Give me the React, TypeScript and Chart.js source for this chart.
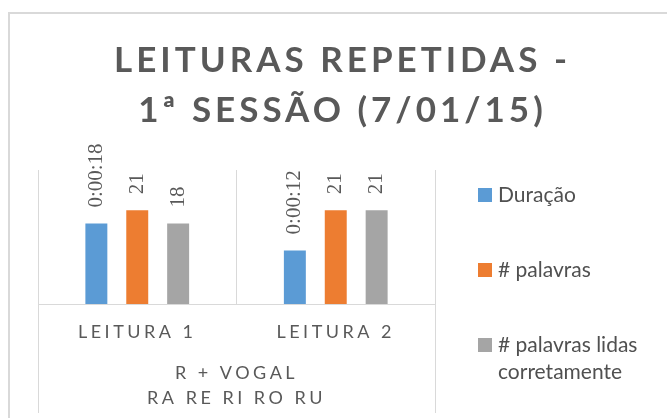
import React, { useEffect, useRef } from 'react';
import { Chart, registerables } from 'chart.js';

Chart.register(...registerables);

// ---- data ----
const titleLines = ['LEITURAS REPETIDAS -', '1ª SESSÃO (7/01/15)'];
const categories = ['LEITURA 1', 'LEITURA 2'];
const groupLabel = ['R + VOGAL', 'RA RE RI RO RU'];
const seriesNames = ['Duração', '# palavras', '# palavras lidas corretamente'];
const duracaoSeconds = [18, 12];
const palavras = [21, 21];
const palavrasCorretas = [18, 21];
const seriesColors = ['#5b9bd5', '#ed7d31', '#a5a5a5'];

const GRID = '#d9d9d9';
const TEXT = '#595959';

function fmtDuration(s: number): string {
  const h = Math.floor(s / 3600);
  const m = Math.floor((s % 3600) / 60);
  const sec = s % 60;
  return `${h}:${String(m).padStart(2, '0')}:${String(sec).padStart(2, '0')}`;
}

const letterSpacingPlugin = {
  id: 'letterSpacing',
  afterLayout(chart: any) {
    const wrap = (obj: any, key: string, spacing: string) => {
      if (!obj || obj['__ls_' + key]) return;
      const orig = obj[key];
      obj[key] = function (...args: any[]) {
        const c: any = chart.ctx;
        const prev = c.letterSpacing;
        c.letterSpacing = spacing;
        try {
          return orig.apply(this, args);
        } finally {
          c.letterSpacing = prev || '0px';
        }
      };
      obj['__ls_' + key] = true;
    };
    wrap(chart.titleBlock, 'draw', '4px');
    wrap(chart.scales.x, 'drawLabels', '3.5px');
    wrap(chart.scales.x2, 'drawLabels', '3.5px');
  },
};

const valueLabelPlugin = {
  id: 'valueLabels',
  afterDatasetsDraw(chart: any) {
    const ctx = chart.ctx;
    chart.data.datasets.forEach((ds: any, di: number) => {
      const meta = chart.getDatasetMeta(di);
      meta.data.forEach((bar: any, i: number) => {
        const v = ds.data[i];
        const text = di === 0 ? fmtDuration(v) : String(v);
        ctx.save();
        ctx.translate(bar.x, bar.y - 16);
        ctx.rotate(-Math.PI / 2);
        ctx.font = '21px "Liberation Serif"';
        ctx.fillStyle = TEXT;
        ctx.textAlign = 'left';
        ctx.textBaseline = 'middle';
        ctx.fillText(text, 0, 0);
        ctx.restore();
      });
    });
  },
};

function wrapWords(ctx: CanvasRenderingContext2D, text: string, maxW: number): string[] {
  const words = text.split(' ');
  const lines: string[] = [];
  let cur = '';
  for (const w of words) {
    const t = cur ? cur + ' ' + w : w;
    if (cur && ctx.measureText(t).width > maxW) {
      lines.push(cur);
      cur = w;
    } else cur = t;
  }
  if (cur) lines.push(cur);
  return lines;
}

const sideLegendPlugin = {
  id: 'sideLegend',
  afterDraw(chart: any) {
    const ctx = chart.ctx;
    const area = chart.chartArea;
    const x0 = area.right + 43;
    let yc = area.top + 25;
    ctx.save();
    ctx.font = '21px Lato';
    ctx.textAlign = 'left';
    ctx.textBaseline = 'middle';
    chart.data.datasets.forEach((ds: any) => {
      ctx.fillStyle = ds.backgroundColor;
      ctx.fillRect(x0, yc - 7, 14, 14);
      const lines = wrapWords(ctx, ds.label, 160);
      ctx.fillStyle = '#505050';
      lines.forEach((ln, k) => ctx.fillText(ln, x0 + 20, yc + k * 27));
      yc += 75;
    });
    ctx.restore();
  },
};

export default function App() {
  const ref = useRef<HTMLCanvasElement | null>(null);

  useEffect(() => {
    if (!ref.current) return;
    const chart = new Chart(ref.current, {
      type: 'bar',
      data: {
        labels: categories,
        datasets: [
          { label: seriesNames[0], data: duracaoSeconds, backgroundColor: seriesColors[0] },
          { label: seriesNames[1], data: palavras, backgroundColor: seriesColors[1] },
          { label: seriesNames[2], data: palavrasCorretas, backgroundColor: seriesColors[2] },
        ],
      },
      options: {
        responsive: false,
        animation: false,
        events: [],
        layout: { padding: { left: 8, right: 0, top: 0, bottom: 0 } },
        datasets: { bar: { barPercentage: 0.537, categoryPercentage: 0.618 } },
        plugins: {
          legend: { display: false },
          tooltip: { enabled: false },
          title: {
            display: true,
            text: titleLines,
            color: TEXT,
            font: { family: 'Lato', size: 35, weight: 'bold', lineHeight: 50 / 35 },
            padding: { top: 21.5, bottom: 34.5 },
          },
        },
        scales: {
          x: {
            type: 'category',
            position: 'bottom',
            offset: true,
            grid: {
              offset: true,
              color: GRID,
              lineWidth: 1,
              drawTicks: true,
              tickLength: 109,
              tickWidth: 1,
              tickColor: (c: any) => (c.index === 1 ? 'rgba(0,0,0,0)' : GRID),
            },
            border: { display: true, color: GRID, width: 1 },
            ticks: {
              padding: -92,
              color: TEXT,
              font: { family: 'Lato', size: 18, lineHeight: 1.2 },
              maxRotation: 0,
              minRotation: 0,
              autoSkip: false,
            },
            afterFit: (s: any) => { s.height = 50; },
          },
          x2: {
            type: 'category',
            position: 'bottom',
            labels: [groupLabel],
            offset: true,
            grid: { display: false, drawTicks: false },
            border: { display: false },
            ticks: {
              padding: 6,
              color: TEXT,
              font: { family: 'Lato', size: 18, lineHeight: 25.5 / 18 },
              maxRotation: 0,
              minRotation: 0,
              autoSkip: false,
            },
            afterFit: (s: any) => { s.height = 64; },
          },
          y: {
            type: 'linear',
            position: 'left',
            min: 0,
            max: 30,
            grid: { display: false, drawTicks: false },
            border: { display: false },
            ticks: { display: false },
            afterFit: (s: any) => { s.width = 20; },
          },
          yRight: {
            type: 'linear',
            position: 'right',
            grid: { display: false, drawTicks: false },
            border: { display: false },
            ticks: { display: false },
            afterFit: (s: any) => { s.width = 232; },
          },
        },
      } as any,
      plugins: [letterSpacingPlugin, valueLabelPlugin, sideLegendPlugin],
    });
    return () => chart.destroy();
  }, []);

  return (
    <div
      style={{
        position: 'fixed',
        left: 8,
        top: 12,
        width: 659,
        height: 406,
        boxSizing: 'border-box',
        borderTop: '2px solid #d9d9d9',
        borderLeft: '2px solid #d9d9d9',
        background: '#ffffff',
      }}
    >
      <canvas ref={ref} width={657} height={404} style={{ display: 'block' }} />
    </div>
  );
}
